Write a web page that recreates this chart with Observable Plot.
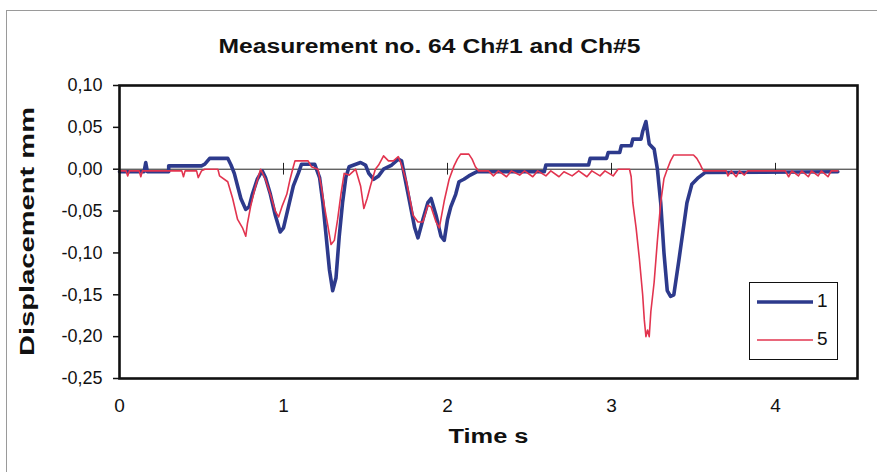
<!DOCTYPE html>
<html>
<head>
<meta charset="utf-8">
<script src="https://cdn.jsdelivr.net/npm/d3@7"></script>
<script src="https://cdn.jsdelivr.net/npm/@observablehq/plot@0.6"></script>
<style>
  html, body { margin: 0; padding: 0; background: #fff; }
  #wrap { position: relative; width: 877px; height: 472px; overflow: hidden; font-family: "Liberation Sans", Arial, sans-serif; }
  #outer { position: absolute; left: 6px; top: 10px; width: 900px; height: 500px; border-left: 1px solid #9a9a9a; border-top: 1px solid #9a9a9a; }
  #chart { position: absolute; left: 0; top: 0; }
  #legend { position: absolute; left: 749px; top: 282px; width: 87px; height: 76px; border: 1px solid #111; background: #fff; }
  #legend .row { position: absolute; left: 7px; height: 20px; font-size: 19px; line-height: 20px; color: #111; }
  #legend .sw { display: inline-block; width: 56px; vertical-align: middle; margin-right: 4px; }
</style>
</head>
<body>
<div id="wrap">
  <div id="outer"></div>
  <div id="chart"></div>
  <div id="legend"></div>
</div>
<script>
// ---- data ----
const title = "Measurement no. 64 Ch#1 and Ch#5";
const xLabel = "Time s";
const yLabel = "Displacement mm";
const seriesNames = ["1", "5"];
const seriesColors = ["#2d3a8c", "#e2344f"];
const xTicks = [0, 1, 2, 3, 4];
const yTicks = [-0.25, -0.20, -0.15, -0.10, -0.05, 0.00, 0.05, 0.10];

// Ch#1 (blue)
const t1 = [0.00,0.15,0.16,0.17,0.30,0.30,0.50,0.52,0.55,0.66,0.68,0.70,0.72,0.74,0.77,0.79,0.81,0.84,0.87,0.89,
  0.92,0.95,0.98,1.00,1.03,1.06,1.09,1.11,1.19,1.22,1.24,1.26,1.28,1.30,1.32,1.34,1.36,1.38,1.40,1.47,
  1.50,1.52,1.55,1.58,1.61,1.66,1.70,1.72,1.74,1.77,1.80,1.82,1.85,1.88,1.90,1.93,1.96,1.98,2.00,2.02,
  2.05,2.07,2.10,2.13,2.18,2.59,2.60,2.86,2.87,2.97,2.98,3.05,3.06,3.12,3.13,3.18,3.19,3.21,3.23,3.26,
  3.28,3.30,3.32,3.34,3.36,3.38,3.41,3.44,3.46,3.49,3.53,3.57,4.38];
const v1 = [-0.003,-0.003,0.008,-0.003,-0.003,0.004,0.004,0.006,0.013,0.013,0.005,-0.005,-0.020,-0.035,-0.048,-0.045,-0.030,-0.012,-0.002,-0.010,
  -0.030,-0.055,-0.075,-0.070,-0.045,-0.020,-0.005,0.006,0.006,-0.010,-0.040,-0.080,-0.120,-0.145,-0.130,-0.080,-0.040,-0.010,0.003,0.008,
  0.005,-0.005,-0.012,-0.008,0.000,0.005,0.012,0.010,-0.010,-0.040,-0.070,-0.082,-0.060,-0.040,-0.035,-0.055,-0.080,-0.085,-0.060,-0.045,
  -0.030,-0.015,-0.012,-0.008,-0.003,-0.003,0.005,0.005,0.013,0.013,0.020,0.020,0.028,0.028,0.036,0.036,0.045,0.057,0.030,0.024,
  0.000,-0.040,-0.100,-0.145,-0.152,-0.150,-0.110,-0.068,-0.040,-0.018,-0.010,-0.004,-0.003];

// Ch#5 (red)
const t5 = [0.00,0.04,0.05,0.06,0.12,0.13,0.14,0.38,0.39,0.40,0.47,0.48,0.50,0.52,0.60,0.61,0.66,0.69,0.72,0.75,
  0.77,0.78,0.80,0.83,0.86,0.89,0.92,0.95,0.97,0.99,1.02,1.04,1.06,1.07,1.15,1.17,1.21,1.23,1.25,1.27,
  1.29,1.31,1.33,1.35,1.37,1.40,1.44,1.47,1.49,1.51,1.53,1.56,1.58,1.61,1.64,1.67,1.70,1.72,1.75,1.77,
  1.79,1.82,1.85,1.88,1.90,1.93,1.95,1.98,2.01,2.04,2.06,2.08,2.13,2.15,2.17,2.19,2.25,2.28,2.31,2.36,
  2.39,2.44,2.47,2.52,2.55,2.60,2.63,2.68,2.71,2.76,2.80,2.85,2.88,2.93,2.96,3.01,3.04,3.11,3.12,3.13,
  3.15,3.17,3.19,3.20,3.21,3.22,3.23,3.24,3.26,3.28,3.30,3.32,3.34,3.36,3.38,3.50,3.52,3.54,3.55,3.56,
  3.70,3.71,3.73,3.76,3.78,3.81,3.83,4.06,4.08,4.10,4.14,4.16,4.20,4.22,4.26,4.28,4.32,4.34,4.38];
const v5 = [-0.002,-0.002,-0.008,-0.002,-0.002,-0.009,-0.002,-0.002,-0.009,-0.002,-0.002,-0.010,-0.002,0.000,0.000,-0.008,-0.015,-0.035,-0.060,-0.070,
  -0.080,-0.065,-0.044,-0.020,0.000,-0.012,-0.030,-0.050,-0.057,-0.045,-0.030,-0.012,0.003,0.010,0.010,0.003,0.000,-0.020,-0.045,-0.067,
  -0.090,-0.085,-0.060,-0.030,-0.005,-0.007,0.000,-0.020,-0.047,-0.035,-0.020,0.000,0.005,0.016,0.010,0.010,0.015,0.005,-0.015,-0.035,
  -0.055,-0.063,-0.063,-0.043,-0.045,-0.063,-0.070,-0.038,-0.012,0.004,0.012,0.018,0.018,0.012,0.003,-0.002,-0.002,-0.008,-0.002,-0.009,
  -0.002,-0.007,-0.002,-0.009,-0.002,-0.008,-0.002,-0.009,-0.003,-0.008,-0.002,-0.009,-0.002,-0.008,-0.002,-0.008,0.000,0.000,-0.009,-0.040,
  -0.070,-0.107,-0.150,-0.180,-0.200,-0.192,-0.200,-0.170,-0.135,-0.085,-0.040,-0.011,0.000,0.010,0.017,0.017,0.013,0.006,0.002,-0.002,
  -0.002,-0.008,-0.002,-0.009,-0.002,-0.007,-0.002,-0.002,-0.009,-0.002,-0.008,-0.002,-0.009,-0.002,-0.008,-0.002,-0.009,-0.002,-0.002];

const ch1 = t1.map((t, i) => ({t, v: v1[i]}));
const ch5 = t5.map((t, i) => ({t, v: v5[i]}));
const fmt = d => d.toFixed(2).replace(".", ",");
const font = "Liberation Sans, Arial, sans-serif";

const chart = Plot.plot({
  width: 877,
  height: 472,
  marginLeft: 119,
  marginRight: 20,
  marginTop: 85,
  marginBottom: 94,
  style: {fontFamily: font, background: "transparent", color: "#111"},
  x: {domain: [0, 4.5]},
  y: {domain: [-0.25, 0.10]},
  marks: [
    Plot.axisY(yTicks, {tickFormat: fmt, tickSize: 6, tickPadding: 11, fontSize: 18, label: null, stroke: "#111", strokeWidth: 1.5}),
    Plot.axisX(xTicks, {tickFormat: d => String(d), tickSize: 0, tickPadding: 20, fontSize: 19, label: null}),
    Plot.ruleY([0], {stroke: "#222", strokeWidth: 1}),
    Plot.ruleX(xTicks.slice(1), {y1: -0.007, y2: 0.007, stroke: "#222", strokeWidth: 1}),
    Plot.line(ch1, {x: "t", y: "v", stroke: seriesColors[0], strokeWidth: 3.6}),
    Plot.line(ch5, {x: "t", y: "v", stroke: seriesColors[1], strokeWidth: 1.6}),
    Plot.frame({stroke: "#111", strokeWidth: 2.6}),
    Plot.text([title], {frameAnchor: "top", dx: -59, dy: -47, fontSize: 20, fontWeight: "bold", fill: "#111"}),
    Plot.text([xLabel], {frameAnchor: "bottom", dy: 64, fontSize: 20, fontWeight: "bold", fill: "#111"})
  ]
});
document.getElementById("chart").appendChild(chart);

// y axis title, rotated, placed left of the frame and centred on it
const ys = chart.scale("y");
const yMid = (ys.range[0] + ys.range[1]) / 2;
d3.select(chart).append("text")
  .attr("transform", `translate(34,${yMid}) rotate(-90)`)
  .attr("text-anchor", "middle")
  .attr("font-family", font)
  .attr("font-size", 20)
  .attr("font-weight", "bold")
  .attr("fill", "#111")
  .text(yLabel);

// widen the title texts to the reference's proportions
const stretch = {[title]: 422, [yLabel]: 249, [xLabel]: 80};
chart.querySelectorAll("text").forEach(el => {
  const w = stretch[el.textContent];
  if (w) { el.setAttribute("textLength", w); el.setAttribute("lengthAdjust", "spacingAndGlyphs"); }
});

// legend
const legend = document.getElementById("legend");
seriesNames.forEach((name, i) => {
  const row = document.createElement("div");
  row.className = "row";
  row.style.top = (i === 0 ? 8 : 46) + "px";
  const sw = `<svg class="sw" width="56" height="8"><line x1="0" x2="56" y1="4" y2="4" stroke="${seriesColors[i]}" stroke-width="${i === 0 ? 3.6 : 1.6}"/></svg>`;
  row.innerHTML = sw + `<span>${name}</span>`;
  legend.appendChild(row);
});
</script>
</body>
</html>
